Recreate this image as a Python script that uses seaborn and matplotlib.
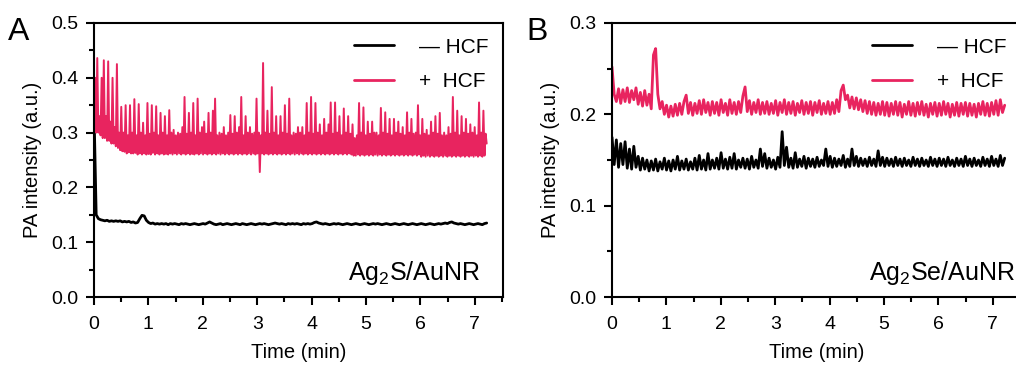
import numpy as np
import seaborn as sns
import matplotlib.pyplot as plt
from matplotlib.ticker import MultipleLocator

t_end = 7.22

a_minus = [0.34,
    0.150, 0.143, 0.141, 0.140, 0.139, 0.140, 0.138, 0.139, 0.138, 0.139,
    0.138, 0.139, 0.137, 0.138, 0.137, 0.138, 0.136, 0.137, 0.135, 0.136,
    0.143, 0.149, 0.148, 0.140, 0.136, 0.134, 0.135, 0.133, 0.134, 0.133,
    0.134, 0.133, 0.134, 0.132, 0.134, 0.133, 0.134, 0.133, 0.132, 0.134,
    0.133, 0.134, 0.133, 0.132, 0.133, 0.134, 0.133, 0.132, 0.133, 0.134,
    0.133, 0.135, 0.137, 0.135, 0.133, 0.132, 0.133, 0.134, 0.132, 0.133,
    0.134, 0.133, 0.132, 0.133, 0.134, 0.133, 0.132, 0.134, 0.133, 0.132,
    0.133, 0.134, 0.133, 0.132, 0.133, 0.134, 0.133, 0.134, 0.133, 0.132,
    0.133, 0.134, 0.135, 0.134, 0.133, 0.134, 0.133, 0.132, 0.134, 0.133,
    0.134, 0.133, 0.134, 0.133, 0.132, 0.134, 0.133, 0.134, 0.133, 0.134,
    0.136, 0.137, 0.135, 0.134, 0.133, 0.134, 0.133, 0.132, 0.133, 0.134,
    0.133, 0.134, 0.133, 0.132, 0.133, 0.134, 0.133, 0.132, 0.133, 0.134,
    0.133, 0.132, 0.133, 0.134, 0.133, 0.132, 0.133, 0.134, 0.133, 0.134,
    0.133, 0.132, 0.133, 0.134, 0.133, 0.132, 0.133, 0.134, 0.133, 0.132,
    0.133, 0.134, 0.133, 0.132, 0.133, 0.134, 0.133, 0.132, 0.133, 0.134,
    0.133, 0.132, 0.133, 0.134, 0.133, 0.132, 0.133, 0.134, 0.133, 0.134,
    0.135, 0.134, 0.136, 0.137, 0.135, 0.134, 0.133, 0.134, 0.133, 0.132,
    0.133, 0.134, 0.133, 0.132, 0.133, 0.134, 0.133, 0.132, 0.134, 0.135]

a_plus = [
    0.330, 0.400, 0.300, 0.436, 0.300, 0.330, 0.295, 0.400, 0.290, 0.432,
    0.290, 0.330, 0.285, 0.430, 0.285, 0.320, 0.280, 0.400, 0.280, 0.310,
    0.275, 0.425, 0.272, 0.300, 0.268, 0.347, 0.266, 0.300, 0.265, 0.350,
    0.262, 0.295, 0.264, 0.350, 0.262, 0.300, 0.262, 0.361, 0.263, 0.295,
    0.260, 0.352, 0.262, 0.300, 0.260, 0.318, 0.262, 0.295, 0.260, 0.354,
    0.261, 0.298, 0.260, 0.350, 0.263, 0.300, 0.260, 0.348, 0.262, 0.295,
    0.260, 0.336, 0.262, 0.300, 0.260, 0.330, 0.261, 0.295, 0.260, 0.341,
    0.262, 0.300, 0.260, 0.305, 0.262, 0.295, 0.260, 0.300, 0.262, 0.298,
    0.260, 0.310, 0.262, 0.365, 0.260, 0.298, 0.262, 0.336, 0.260, 0.300,
    0.261, 0.354, 0.260, 0.295, 0.262, 0.362, 0.260, 0.300, 0.262, 0.310,
    0.260, 0.320, 0.262, 0.298, 0.260, 0.336, 0.262, 0.300, 0.260, 0.340,
    0.262, 0.362, 0.260, 0.295, 0.262, 0.300, 0.260, 0.298, 0.262, 0.310,
    0.260, 0.295, 0.262, 0.300, 0.260, 0.332, 0.262, 0.298, 0.260, 0.330,
    0.262, 0.300, 0.260, 0.310, 0.262, 0.365, 0.260, 0.295, 0.262, 0.330,
    0.260, 0.300, 0.262, 0.310, 0.260, 0.298, 0.262, 0.300, 0.260, 0.362,
    0.262, 0.300, 0.228, 0.295, 0.262, 0.427, 0.260, 0.300, 0.262, 0.340,
    0.260, 0.298, 0.262, 0.383, 0.260, 0.300, 0.262, 0.330, 0.260, 0.295,
    0.262, 0.330, 0.260, 0.300, 0.262, 0.350, 0.260, 0.298, 0.262, 0.362,
    0.260, 0.295, 0.262, 0.300, 0.260, 0.298, 0.262, 0.310, 0.260, 0.300,
    0.262, 0.310, 0.260, 0.295, 0.262, 0.354, 0.260, 0.300, 0.262, 0.365,
    0.260, 0.298, 0.262, 0.354, 0.260, 0.300, 0.262, 0.315, 0.260, 0.295,
    0.262, 0.325, 0.260, 0.300, 0.262, 0.315, 0.260, 0.355, 0.262, 0.298,
    0.260, 0.355, 0.262, 0.300, 0.260, 0.330, 0.262, 0.295, 0.260, 0.344,
    0.262, 0.300, 0.260, 0.330, 0.262, 0.298, 0.260, 0.315, 0.258, 0.290,
    0.258, 0.295, 0.260, 0.354, 0.258, 0.300, 0.260, 0.346, 0.258, 0.295,
    0.260, 0.320, 0.258, 0.298, 0.260, 0.320, 0.258, 0.300, 0.260, 0.300,
    0.258, 0.295, 0.260, 0.345, 0.258, 0.300, 0.260, 0.337, 0.258, 0.298,
    0.260, 0.325, 0.258, 0.295, 0.260, 0.325, 0.258, 0.300, 0.260, 0.320,
    0.258, 0.298, 0.260, 0.310, 0.258, 0.295, 0.260, 0.337, 0.258, 0.300,
    0.260, 0.325, 0.258, 0.298, 0.260, 0.300, 0.258, 0.350, 0.260, 0.295,
    0.256, 0.325, 0.258, 0.298, 0.256, 0.305, 0.258, 0.295, 0.256, 0.320,
    0.258, 0.300, 0.256, 0.330, 0.258, 0.298, 0.256, 0.336, 0.258, 0.295,
    0.256, 0.300, 0.258, 0.295, 0.256, 0.310, 0.258, 0.298, 0.256, 0.365,
    0.258, 0.300, 0.256, 0.340, 0.258, 0.295, 0.256, 0.330, 0.258, 0.300,
    0.256, 0.325, 0.258, 0.298, 0.256, 0.315, 0.258, 0.300, 0.256, 0.310,
    0.258, 0.295, 0.256, 0.355, 0.258, 0.300, 0.256, 0.340, 0.258, 0.298,
    0.280]

b_minus = [0.175,
    0.145, 0.172, 0.142, 0.168, 0.145, 0.170, 0.141, 0.162, 0.140, 0.165,
    0.142, 0.154, 0.139, 0.152, 0.140, 0.150, 0.138, 0.149, 0.139, 0.151,
    0.138, 0.148, 0.140, 0.152, 0.139, 0.149, 0.138, 0.150, 0.140, 0.154,
    0.139, 0.149, 0.140, 0.151, 0.139, 0.148, 0.140, 0.152, 0.139, 0.155,
    0.140, 0.150, 0.139, 0.157, 0.140, 0.150, 0.141, 0.152, 0.140, 0.158,
    0.141, 0.151, 0.140, 0.153, 0.141, 0.157, 0.140, 0.150, 0.142, 0.152,
    0.141, 0.151, 0.140, 0.154, 0.142, 0.150, 0.141, 0.162, 0.143, 0.157,
    0.141, 0.152, 0.142, 0.150, 0.140, 0.153, 0.142, 0.181, 0.144, 0.164,
    0.142, 0.152, 0.141, 0.158, 0.142, 0.151, 0.143, 0.154, 0.141, 0.152,
    0.143, 0.151, 0.142, 0.153, 0.143, 0.150, 0.144, 0.162, 0.143, 0.154,
    0.142, 0.152, 0.143, 0.151, 0.144, 0.155, 0.142, 0.151, 0.143, 0.162,
    0.144, 0.154, 0.143, 0.152, 0.144, 0.151, 0.143, 0.153, 0.144, 0.151,
    0.143, 0.160, 0.144, 0.153, 0.143, 0.152, 0.144, 0.151, 0.143, 0.153,
    0.144, 0.151, 0.143, 0.152, 0.144, 0.150, 0.143, 0.153, 0.144, 0.151,
    0.143, 0.152, 0.144, 0.150, 0.143, 0.153, 0.144, 0.151, 0.143, 0.152,
    0.144, 0.151, 0.143, 0.153, 0.144, 0.150, 0.143, 0.152, 0.144, 0.151,
    0.143, 0.154, 0.144, 0.151, 0.143, 0.152, 0.144, 0.150, 0.143, 0.153,
    0.144, 0.151, 0.143, 0.154, 0.144, 0.151, 0.143, 0.155, 0.144, 0.152]

b_plus = [0.252,
    0.222, 0.214, 0.228, 0.212, 0.227, 0.214, 0.229, 0.213, 0.226, 0.216,
    0.229, 0.211, 0.224, 0.209, 0.226, 0.210, 0.222, 0.206, 0.265, 0.272,
    0.222, 0.206, 0.214, 0.200, 0.210, 0.197, 0.209, 0.198, 0.211, 0.199,
    0.212, 0.200, 0.214, 0.221, 0.201, 0.213, 0.199, 0.212, 0.201, 0.215,
    0.200, 0.216, 0.202, 0.213, 0.199, 0.214, 0.201, 0.213, 0.199, 0.216,
    0.202, 0.212, 0.199, 0.216, 0.201, 0.213, 0.200, 0.214, 0.202, 0.220,
    0.230, 0.203, 0.215, 0.200, 0.213, 0.202, 0.216, 0.200, 0.213, 0.201,
    0.214, 0.200, 0.212, 0.201, 0.215, 0.199, 0.213, 0.202, 0.216, 0.200,
    0.213, 0.201, 0.214, 0.199, 0.212, 0.202, 0.215, 0.200, 0.213, 0.201,
    0.214, 0.199, 0.213, 0.202, 0.215, 0.200, 0.212, 0.201, 0.214, 0.200,
    0.213, 0.201, 0.216, 0.203, 0.226, 0.232, 0.216, 0.221, 0.207, 0.219,
    0.206, 0.218, 0.205, 0.216, 0.203, 0.215, 0.201, 0.214, 0.200, 0.213,
    0.199, 0.212, 0.200, 0.214, 0.199, 0.213, 0.198, 0.212, 0.200, 0.214,
    0.199, 0.213, 0.197, 0.211, 0.200, 0.214, 0.199, 0.212, 0.198, 0.213,
    0.200, 0.214, 0.199, 0.211, 0.197, 0.212, 0.200, 0.213, 0.198, 0.212,
    0.199, 0.214, 0.200, 0.212, 0.197, 0.211, 0.199, 0.213, 0.198, 0.212,
    0.200, 0.213, 0.198, 0.212, 0.199, 0.211, 0.197, 0.212, 0.200, 0.214,
    0.199, 0.212, 0.198, 0.213, 0.200, 0.215, 0.199, 0.216, 0.202, 0.210]

labels = ['\u2014 HCF', '+  HCF']
pink = '#E8245F'

sns.set_style('ticks')
plt.rcParams['font.family'] = ['Liberation Sans', 'DejaVu Sans']
plt.rcParams['mathtext.default'] = 'regular'
plt.rcParams['axes.linewidth'] = 1.5
for key in ['text.color', 'axes.labelcolor', 'axes.edgecolor',
            'xtick.color', 'ytick.color']:
    plt.rcParams[key] = 'black'

fig = plt.figure(figsize=(10.16, 3.68), dpi=100)
axA = fig.add_axes([94 / 1016, 1 - 297 / 368, 409 / 1016, 274 / 368])
axB = fig.add_axes([612 / 1016, 1 - 297 / 368, 409 / 1016, 274 / 368])

panels = [
    (axA, a_minus, a_plus, 0.5, r'Ag$_2$S/AuNR', 0.945, 'A', 0.008, 2.0, 1.4),
    (axB, b_minus, b_plus, 0.3, r'Ag$_2$Se/AuNR', 0.985, 'B', 0.518, 2.0, 2.0),
]

for ax, minus, plus, ytop, name, nx, letter, lx, lw_m, lw_p in panels:
    sns.lineplot(x=np.linspace(0, t_end, len(minus)), y=minus, ax=ax,
                 color='black', lw=lw_m, label=labels[0], estimator=None)
    sns.lineplot(x=np.linspace(0, t_end, len(plus)), y=plus, ax=ax,
                 color=pink, lw=lw_p, label=labels[1], estimator=None)
    ax.set_xlim(0, 7.52)
    ax.set_ylim(0, ytop)
    ax.xaxis.set_major_locator(MultipleLocator(1))
    ax.xaxis.set_minor_locator(MultipleLocator(0.5))
    ax.yaxis.set_major_locator(MultipleLocator(0.1))
    ax.yaxis.set_minor_locator(MultipleLocator(0.05))
    ax.yaxis.set_major_formatter(plt.FormatStrFormatter('%.1f'))
    ax.tick_params(which='major', direction='out', length=6, width=1.5,
                   labelsize=14, pad=5)
    ax.tick_params(which='minor', direction='out', length=3.5, width=1.5)
    ax.tick_params(axis='x', which='major', pad=8)
    ax.set_xlabel('Time (min)', fontsize=14.5, labelpad=7)
    ax.set_ylabel('PA intensity (a.u.)', fontsize=14.5, labelpad=7)
    leg = ax.legend(loc='upper right', frameon=False, fontsize=15,
                    handlelength=1.9, handletextpad=1.2, labelspacing=0.75,
                    borderaxespad=0.3)
    for line in leg.get_lines():
        line.set_linewidth(2.0)
    ax.text(nx, 0.035, name, transform=ax.transAxes, ha='right',
            va='bottom', fontsize=18)
    fig.text(lx, 0.955, letter, fontsize=23, va='top', ha='left')

fig.savefig('out.png', dpi=100)
